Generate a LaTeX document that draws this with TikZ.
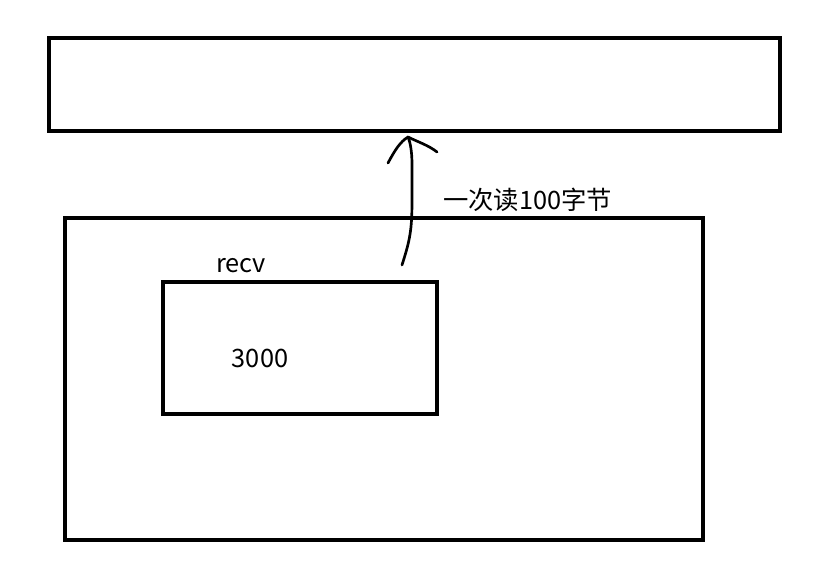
\documentclass[tikz,border=0pt]{standalone}
\usepackage{fontspec}
\setmainfont{Noto Sans CJK SC}
\begin{document}
\begin{tikzpicture}[x=0.75pt,y=-0.75pt,
  box/.style={draw=black,line width=2.4pt},
  pen/.style={draw=black,line width=2pt,line cap=round,line join=round},
  lbl/.style={font=\fontsize{19}{22}\selectfont,inner sep=0pt}]
\useasboundingbox (0,0) rectangle (831,570);
\draw[box] (49,38) rectangle (780,131);
\coordinate (topl) at (49,38);
\coordinate (tip) at (408,137);
\draw[box] (65,218) rectangle (703,540);
\draw[box] (163,282) rectangle (437,414);
\node[lbl] (recv) at (241,266) {recv};
\node[lbl] (num) at (260,358) {3000};
\node[lbl,anchor=west] (note) at (443,200) {一次读100字节};
\coordinate (start) at (402,265);
\draw[pen] (start) .. controls (410,240) and (412,230) .. (412,200) -- (412,165) .. controls (412,150) and (410,142) .. (tip);
\draw[pen] (388,163) .. controls (395,150) and (400,142) .. (tip) .. controls (418,142) and (428,145) .. (437,152);
\end{tikzpicture}
\end{document}
